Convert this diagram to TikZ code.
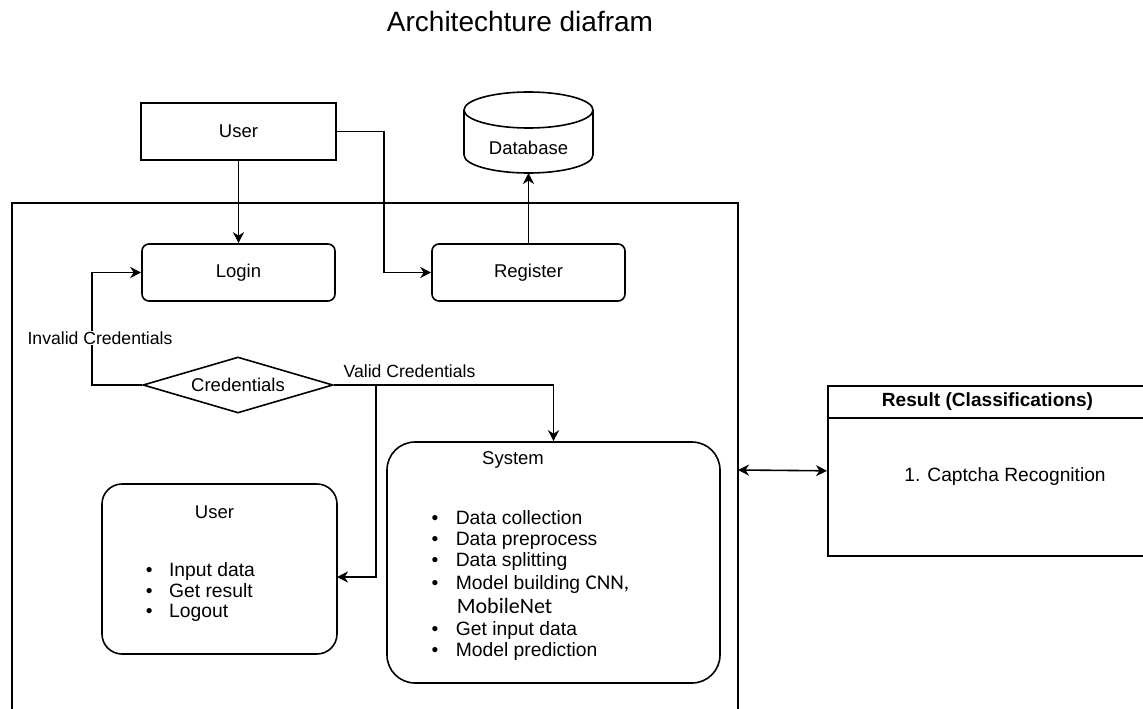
\documentclass[tikz,border=0pt]{standalone}
\usepackage{fontspec}
\setmainfont{Liberation Sans}
\newfontfamily\calib{Carlito}
\usetikzlibrary{shapes.geometric,arrows.meta}
\begin{document}
\begin{tikzpicture}[x=1pt,y=-1pt,line width=1.6pt,
  plainbox/.style={draw,line width=1.6pt,inner sep=0pt,font=\fontsize{18.5}{22}\selectfont},
  roundbox/.style={plainbox,rounded corners=7pt},
  conn/.style={draw,line width=1.6pt,-{Stealth[length=11pt,width=11pt,inset=3.5pt]}},
  dconn/.style={draw,line width=1.6pt,{Stealth[length=11pt,width=11pt,inset=3.5pt]}-{Stealth[length=11pt,width=11pt,inset=3.5pt]}},
  lbl/.style={font=\fontsize{17.6}{20}\selectfont,inner sep=1pt},
  txt/.style={font=\fontsize{18.5}{22}\selectfont,inner sep=0pt},
  item/.style={anchor=base west,inner sep=0pt,font=\fontsize{19.3}{22}\selectfont},
  bul/.style={anchor=base,inner sep=0pt,font=\fontsize{19.3}{22}\selectfont}]
\useasboundingbox[fill=white] (0,0) rectangle (1143,709);

% title
\node[anchor=base,inner sep=0pt,font=\fontsize{28}{32}\selectfont] (title) at (520,32) {Architechture diafram};

% outer frame
\draw (12,709) -- (12,203) -- (738,203) -- (738,709);

% top nodes
\node[plainbox,minimum width=195pt,minimum height=57pt] (user) at (238.5,131.5) {User};
\node[roundbox,minimum width=193pt,minimum height=57pt] (login) at (238.5,272.5) {Login};
\node[roundbox,minimum width=193pt,minimum height=57pt] (register) at (528.5,272.5) {Register};

% database cylinder
\draw (464,155) -- (464,110) (593,110) -- (593,155);
\draw (464,155) arc[start angle=180,end angle=360,x radius=64.5pt,y radius=18pt];
\draw (528.5,110) ellipse [x radius=64.5pt,y radius=18pt];
\node[txt] (db) at (528.5,148) {Database};
\coordinate (dbb) at (528.5,173);

% decision
\node[draw,diamond,aspect=3.4,minimum width=190pt,minimum height=56pt,inner sep=0pt,
  font=\fontsize{18.5}{22}\selectfont] (cred) at (238,385) {Credentials};

% user box (lower)
\node[plainbox,rounded corners=20pt,minimum width=235pt,minimum height=170pt] (user2) at (219.5,569) {};
\node[txt] (u2t) at (214.5,512) {User};
\node[bul] (ub1) at (149.3,576) {•};
\node[item] (ui1) at (168.3,576) {Input data};
\node[bul] (ub2) at (149.3,597) {•};
\node[item] (ui2) at (168.3,597) {Get result};
\node[bul] (ub3) at (149.3,617) {•};
\node[item] (ui3) at (168.3,617) {Logout};

% system box
\node[plainbox,rounded corners=28pt,minimum width=333pt,minimum height=241pt] (system) at (553.5,562.5) {};
\node[txt] (st) at (513,460) {System};
\node[bul] (sb1) at (435,524) {•};
\node[item] (si1) at (455,524) {Data collection};
\node[bul] (sb2) at (435,545) {•};
\node[item] (si2) at (455,545) {Data preprocess};
\node[bul] (sb3) at (435,566) {•};
\node[item] (si3) at (455,566) {Data splitting};
\node[bul] (sb4) at (435,589) {•};
\node[item] (si4) at (455,589) {Model building {\calib\fontsize{21}{24}\selectfont CNN,}};
\node[item,font=\calib\fontsize{22}{24}\selectfont] (si5) at (456,613) {MobileNet};
\node[bul] (sb6) at (435,635) {•};
\node[item] (si6) at (455,635) {Get input data};
\node[bul] (sb7) at (435,656) {•};
\node[item] (si7) at (455,656) {Model prediction};

% result box
\node[draw,anchor=north west,minimum width=323pt,minimum height=170pt,inner sep=0pt] (result) at (827,385) {};
\draw (827,418) -- (1150,418);
\node[txt,font=\bfseries\fontsize{19.1}{22}\selectfont] (rt) at (987.5,402) {Result (Classifications)};
\node[txt,font=\fontsize{19.2}{22}\selectfont] (r1) at (1005,477) {1. Captcha Recognition};

% connectors
\draw[conn] (user) -- (login);
\draw[conn] (user.east) -- ++(47,0) |- (register.west);
\draw[conn] (register) -- (dbb);
\draw[conn] (cred.west) -- ++(-50,0) |- (login.west);
\node[lbl,fill=white] (inv) at (100,338) {Invalid Credentials};
\draw[conn] (cred.east) -| (system.north);
\node[lbl] (val) at (409.5,371) {Valid Credentials};
\coordinate (br) at (376,385);
\coordinate (u2in) at (337,577);
\draw[conn] (br) |- (u2in);
\coordinate (sysR) at (738,470);
\draw[dconn] (sysR) -- (result.west);
\end{tikzpicture}
\end{document}
